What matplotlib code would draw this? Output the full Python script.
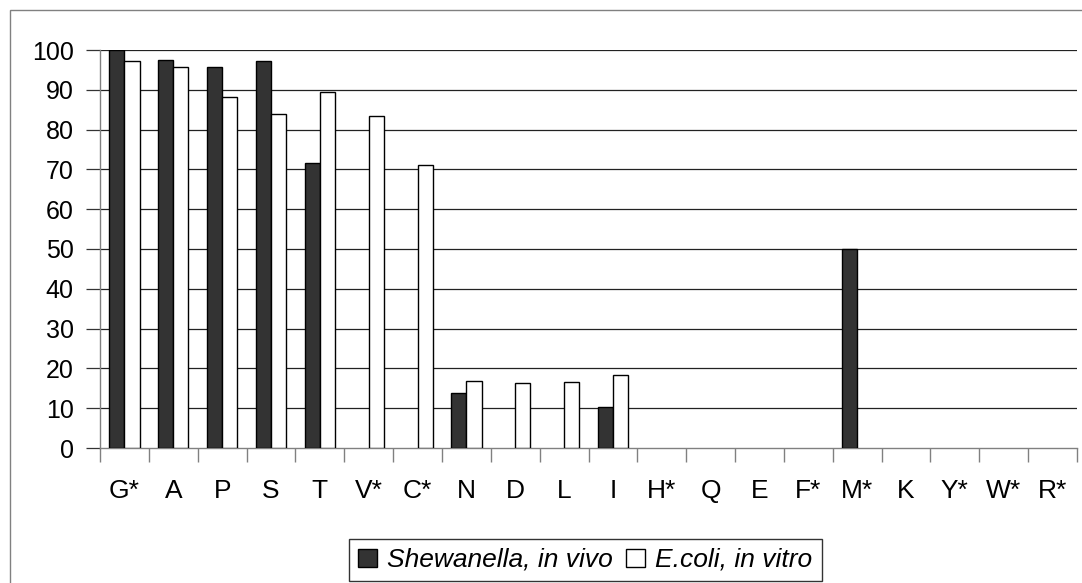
import matplotlib
matplotlib.use("Agg")
import matplotlib.pyplot as plt
import numpy as np
from matplotlib.patches import Rectangle, Patch

categories = ["G*", "A", "P", "S", "T", "V*", "C*", "N", "D", "L", "I", "H*", "Q", "E", "F*", "M*", "K", "Y*", "W*", "R*"]
shewanella = [100, 97.6, 95.8, 97.2, 71.6, 0, 0, 13.7, 0, 0, 10.3, 0, 0, 0, 0, 50, 0, 0, 0, 0]
ecoli = [97.2, 95.8, 88.3, 83.9, 89.5, 83.4, 71.1, 16.8, 16.3, 16.6, 18.3, 0, 0, 0, 0, 0, 0, 0, 0, 0]
yticks = list(range(0, 101, 10))

plt.rcParams['font.family'] = ['Liberation Sans', 'DejaVu Sans']

W, H = 1082, 583
fig = plt.figure(figsize=(W / 100, H / 100), dpi=100)
ax = fig.add_axes([100 / W, 1 - 448 / H, 977 / W, (448 - 50) / H])

x = np.arange(len(categories))
bw = 0.31
for xi, v in zip(x, shewanella):
    if v > 0:
        ax.bar(xi - bw / 2, v, bw, color='#333333', edgecolor='black', linewidth=1, zorder=3)
for xi, v in zip(x, ecoli):
    if v > 0:
        ax.bar(xi + bw / 2, v, bw, color='white', edgecolor='black', linewidth=1, zorder=3)

ax.set_xlim(-0.5, len(categories) - 0.5)
ax.set_ylim(0, 100)
ax.set_yticks(yticks)
ax.set_yticklabels([str(t) for t in yticks], fontsize=18)
for t in yticks[1:]:
    ax.axhline(t, color='#222222', linewidth=0.9, zorder=1)

ax.set_xticks(x)
ax.set_xticklabels(categories, fontsize=19)
ax.set_xticks(np.arange(-0.5, len(categories), 1), minor=True)
ax.tick_params(axis='x', which='major', length=0, pad=22)
ax.tick_params(axis='x', which='minor', length=10, color='#808080', width=1, direction='out')
ax.tick_params(axis='y', length=10, color='#333333', width=0.9, direction='out', pad=9)

for s in ['top', 'right']:
    ax.spines[s].set_visible(False)
ax.spines['left'].set_color('#808080')
ax.spines['bottom'].set_color('#808080')
ax.spines['left'].set_linewidth(1)
ax.spines['bottom'].set_linewidth(1)

# legend
handles = [Patch(facecolor='#333333', edgecolor='black', label='Shewanella, in vivo'),
           Patch(facecolor='white', edgecolor='black', label='E.coli, in vitro')]
leg = fig.legend(handles=handles, loc='center', bbox_to_anchor=(585.5 / W, 1 - 560 / H),
                 ncol=2, frameon=True, fancybox=False, edgecolor='black',
                 prop={'style': 'italic', 'size': 19}, handlelength=0.7, handleheight=0.7,
                 handletextpad=0.4, columnspacing=0.5, borderpad=0.35, borderaxespad=0)
leg.get_frame().set_linewidth(1)

# outer chart border
fig.patches.append(Rectangle((10 / W, -0.05), 1.1, 1 - 10 / H + 0.05, transform=fig.transFigure,
                             fill=False, edgecolor='#808080', linewidth=1))

fig.savefig('out.png', dpi=100)
